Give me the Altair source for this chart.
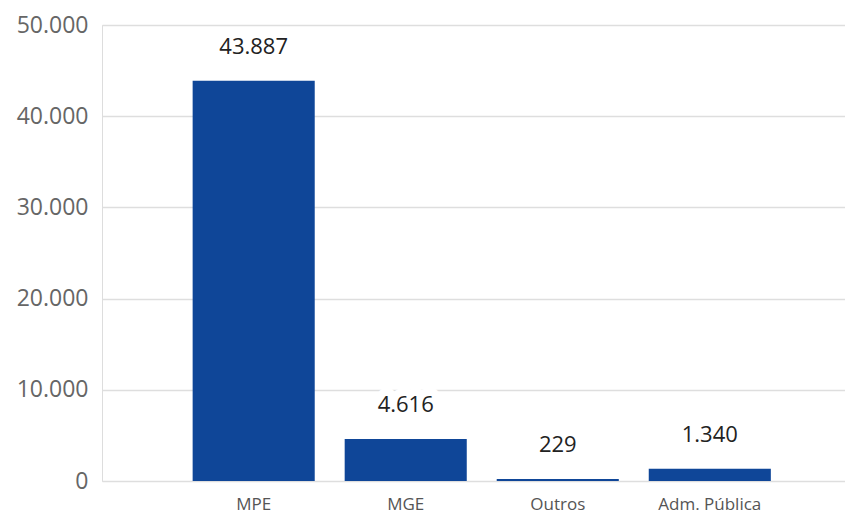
import altair as alt
import pandas as pd

categories = ["MPE", "MGE", "Outros", "Adm. Pública"]
values = [43887, 4616, 229, 1340]
labels = ["43.887", "4.616", "229", "1.340"]

df = pd.DataFrame({"cat": categories, "val": values, "lab": labels})

FONT = "Open Sans"

x = alt.X(
    "cat:N",
    sort=categories,
    title=None,
    scale=alt.Scale(paddingInner=0.197, paddingOuter=0.542, align=0.55),
    axis=alt.Axis(
        labelAngle=0, ticks=False, domain=False, grid=False,
        labelFont=FONT, labelFontSize=17, labelColor="#555555",
        labelPadding=15,
    ),
)
y = alt.Y(
    "val:Q",
    title=None,
    scale=alt.Scale(domain=[0, 50000], nice=False),
    axis=alt.Axis(
        values=[0, 10000, 20000, 30000, 40000, 50000],
        labelExpr="replace(format(datum.value, ',d'), ',', '.')",
        ticks=False, tickSize=0, domain=False,
        gridColor="#dedede", gridWidth=1.5,
        labelFont=FONT, labelFontSize=23, labelColor="#666666",
        labelPadding=14, minExtent=89, maxExtent=89,
    ),
)

bars = alt.Chart(df).mark_bar(color="#0F4698").encode(x=x, y=y)

halo = alt.Chart(df).mark_text(
    font=FONT, fontSize=22, baseline="middle", dy=-34,
    color="white", stroke="white", strokeWidth=16, strokeJoin="round",
).encode(x=alt.X("cat:N", sort=categories), y="val:Q", text="lab:N")

text = alt.Chart(df).mark_text(
    font=FONT, fontSize=22, baseline="middle", dy=-34, color="#222222",
).encode(x=alt.X("cat:N", sort=categories), y="val:Q", text="lab:N")

chart = (
    alt.layer(bars, halo, text)
    .properties(
        width=837, height=506,
        autosize=alt.AutoSizeParams(type="fit", contains="padding"),
        padding={"left": 5, "top": 6, "right": 0, "bottom": 2},
    )
    .configure_view(stroke=None)
    .configure(background="white")
)

chart.save("out.html", embed_options={"renderer": "svg", "actions": False})
